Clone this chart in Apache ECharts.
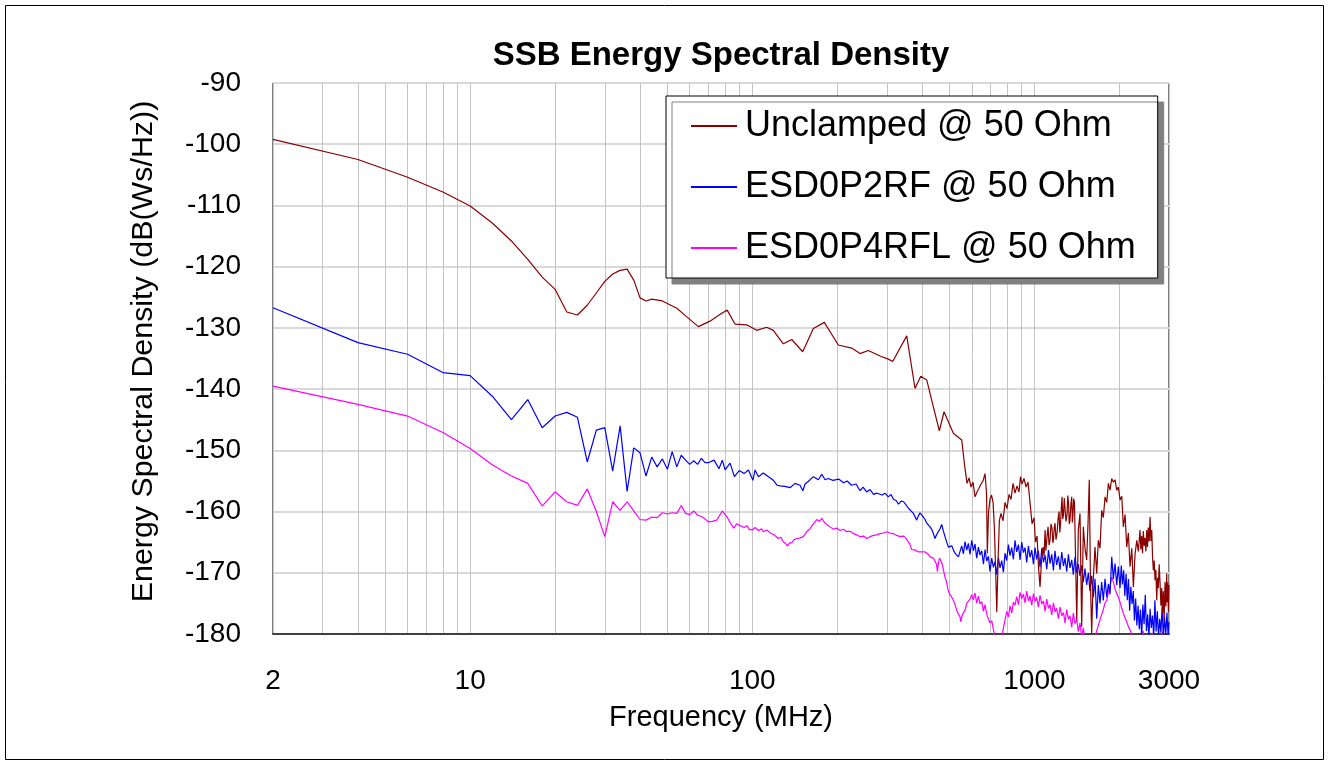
<!DOCTYPE html>
<html><head><meta charset="utf-8">
<script src="https://cdn.jsdelivr.net/npm/echarts@6/dist/echarts.min.js"></script>
<style>html,body{margin:0;padding:0;background:#fff}#c{width:1329px;height:765px}</style>
</head><body><div id="c"></div>
<script>
const seriesNames = ['Unclamped @ 50 Ohm', 'ESD0P2RF @ 50 Ohm', 'ESD0P4RFL @ 50 Ohm'];
const xLabelValues = [2, 10, 100, 1000, 3000];
const xGridValues = [2,3,4,5,6,7,8,9,10,20,30,40,50,60,70,80,90,100,200,300,400,500,600,700,800,900,1000,2000,3000];

// [frequency MHz, dB(Ws/Hz)]
const unclamped = [
[2,-99.2],[4,-102.5],[6,-105.4],[8,-107.8],[10,-110.1],[12,-112.9],[14,-115.8],[16,-118.8],[18,-121.7],[20,-123.7],[22,-127.4],[24,-127.9],[26,-126.3],[28,-124.3],[30,-122.4],[32,-121.2],[34,-120.6],[36,-120.4],[38,-122.2],[40,-125.1],[42,-125.6],[44,-125.3],[48,-125.6],[54,-126.8],[58.6,-128.2],[64.4,-129.8],[70.8,-128.9],[77.9,-127.6],[81.5,-127.1],[86.9,-129.4],[95.5,-129.5],[103.7,-130.4],[112.5,-129.9],[118.7,-130.4],[128.8,-132.6],[138,-131.9],[150.9,-133.9],[164.6,-130.1],[180,-129.1],[201.8,-132.8],[225.1,-133.3],[240.9,-134.2],[257.8,-133.7],[283.6,-134.6],[303.5,-135.1],[314.6,-135.5],[352.7,-131.3],[377.5,-139.9],[395.4,-137.9],[415.3,-138.5],[438.3,-142.9],[460.3,-146.8],[478.3,-143.7],[516.1,-147.2],[552.5,-148.3],[567.7,-153.0],
[577.1,-155.4],[586.6,-154.5],[596.1,-156.0],[605.9,-155.2],[615.9,-157.6],[626,-156.8],[636.4,-156.2],[646.9,-155.5],[657.5,-155.0],[668.3,-153.8],[676.6,-157],[681,-166.8],[687.8,-160],[696.1,-158.0],[704.8,-157.3],[713.5,-158.5],[721.2,-162.5],[728.3,-169],[735.5,-176.4],[743.4,-168],[751.3,-161.5],[761.5,-160.3],[774,-161.5],[786.8,-158.5],[799.7,-159.5],[812.9,-157.2],[826.3,-158.0],[839.9,-155.4],[853.7,-157.0],[867.8,-155.8],[882,-156.8],[892.8,-154.3],[903.8,-155.5],[918.7,-154.6],[933.9,-156.0],[949.3,-155.2],[964.9,-158.5],[980.8,-162],[996.8,-161],[1009,-165],[1022,-164],[1034,-169],[1047,-172.3],[1060,-168],[1073,-165.8],[1082,-167.2],[1091,-163],[1098,-166.4],[1105,-165],[1111,-163.6],[1118,-162.5],[1127,-165.5],[1136,-164.7],[1145,-162.0],[1155,-162.8],[1162,-165.1],[1169,-164.5],[1176,-162.6],[1183,-161.9],[1193,-164.6],[1203,-163.5],[1213,-161.2],[1223,-160],[1230,-163.4],[1238,-162],[1245,-159.6],[1253,-157.6],[1260,-161.2],[1268,-160.5],[1276,-157.8],[1284,-158.1],[1294,-161.6],[1305,-160.5],[1313,-157.4],[1321,-158.5],[1329,-162.0],[1337,-161.5],[1346,-159.0],[1356,-157.6],[1363,-161.8],[1370,-160.5],[1378,-157.9],[1387,-158.6],[1413,-177.7],[1431,-163],[1451,-160.3],[1471,-178.8],[1491,-162.5],[1511,-166],[1532,-167.9],[1549,-162],[1565,-154.8],[1581,-172],[1596,-179.9],[1613,-172],[1640,-165.8],[1663,-170.1],[1685,-164.7],[1708,-166],[1732,-159.8],[1755,-161],[1780,-157.6],[1805,-158.5],[1829,-155.4],[1854,-156.5],[1880,-154.6],[1905,-155.2],[1931,-154.8],[1958,-156.5],[1984,-156.0],[2012,-158.1],[2040,-157.5],[2067,-162.5],[2096,-160.5],[2125,-165.8],[2153,-163.5],[2183,-169],[2214,-166],[2243,-172.3],[2274,-167],[2306,-164.7],[2336,-166.5],
[2368,-163],[2385,-166.2],[2401,-164.0],[2417,-166.8],[2433,-163.2],[2450,-165.6],[2467,-164.3],[2484,-166.5],[2502,-163.0],[2518,-165.8],[2534,-162.6],[2552,-164.9],[2570,-160.9],[2588,-164.8],[2606,-163.0],[2623,-167.4],[2640,-169.6],[2658,-168.0],[2677,-171.2],[2695,-169.5],[2714,-174.5],[2732,-170.8],[2750,-172.5],[2769,-168.6],[2788,-171.5],[2808,-175.4],[2827,-172.5],[2845,-176.6],[2864,-173.0],[2884,-177.8],[2904,-171.5],[2925,-175.5],[2945,-170.1],[2957,-174.8],[2968,-171.6],[2985,-176.4],[3000,-172]
];

const esd0p2rf = [
[2,-126.7],[4,-132.4],[6,-134.3],[8,-137.3],[10,-137.8],[12,-141.2],[14,-145.0],[16,-141.7],[18,-146.3],[20,-144.4],[22,-143.8],[24,-144.6],[26,-151.9],[28,-146.7],[30,-146.3],[32,-153.4],[34,-146.0],[36,-156.7],[38,-149.6],[40,-150.4],[42,-154.2],[44,-151.1],[46,-152.7],[48,-151.4],[50,-153.1],[52,-150.2],[54,-152.7],[56,-150.8],[58,-151.6],[60,-152.3],[62,-151.7],[64,-152.3],[66,-151.3],[68,-152.0],[70.2,-152.0],[73.2,-151.6],[76.2,-153.0],[78.3,-151.6],[80.1,-153.2],[83.4,-152.1],[86.4,-154.3],[89.9,-153.3],[93.5,-153.8],[96.9,-153.2],[100.5,-154.9],[102.3,-153.2],[105.1,-154.3],[109.4,-153.7],[114.1,-154.3],[118.8,-154.9],[122.4,-155.7],[125.4,-155.8],[130.6,-155.9],[136.1,-156.1],[141.8,-155.4],[147.6,-155.7],[151.1,-156.6],[153.8,-155.5],[157.9,-155.1],[164.6,-154.3],[171.5,-154.8],[176.3,-153.9],[181.1,-154.8],[185.6,-154.6],[193.3,-154.9],[202.3,-154.7],[210.7,-155.3],[216.8,-155.0],[225,-155.7],[233.2,-155.5],[241,-156.6],[247,-156.0],[254.2,-156.8],[261.5,-156.4],[268.9,-157.2],[277,-157.0],[288.4,-157.3],[295.5,-157.0],[303.2,-157.6],[310.3,-157.2],[316.3,-158.0],[323.3,-158.2],[329.7,-158.8],[337.3,-158.3],[343.9,-158.4],[351.7,-159.0],[358.5,-159.5],[363.9,-159.2],[372.5,-160.3],[377.5,-160.6],[382.6,-161.4],[387.9,-160.7],[393.2,-160.2],[398.6,-160.5],[404.2,-160.9],[409.6,-161.3],[415.3,-161.9],[420.7,-161.7],[426.6,-162.5],[433.6,-163.0],[444.4,-164.4],[449.9,-163.8],[456.6,-163.6],[462.9,-162.8],[469.4,-162.1],[475.7,-163.2],[482.2,-164.1],[488.9,-165.0],[495.7,-165.8],[502.3,-166.0],[509.4,-165.6],[516.4,-166.3],[523.2,-166.8],[530.5,-166.5],[537.8,-167.4],
[545,-167.2],[552.5,-165.6],[560.1,-166.9],[567.7,-164.9],[575.6,-166.3],[583.3,-165.2],[591.3,-167.0],[599.6,-164.7],[607.9,-166.4],[615.9,-165.3],[624.4,-167.6],[633.2,-165.8],[641.6,-167.1],[650.6,-166.4],[659.8,-168.6],[668.3,-166.2],[677.6,-168.1],[687,-167.3],[696.1,-169.8],[705.8,-167.6],[715.7,-169.1],[725.1,-168.2],[735.3,-170.3],[745.5,-167.5],[755.3,-169.2],[765.8,-168.0],[776.5,-169.9],[786.8,-166.8],[797.8,-168.0],[808.9,-165.4],[819.5,-167.2],[830.9,-165.9],[842.5,-167.8],[853.7,-164.7],[865.5,-166.6],[877.6,-165.4],[889.2,-167.9],[901.6,-165.0],[914.2,-166.7],[926.3,-165.9],[939.2,-168.3],[952.3,-165.6],[964.9,-167.5],[978.4,-166.3],[992.1,-168.6],[1005,-165.9],[1019,-167.8],[1033,-166.4],[1047,-169.1],[1062,-166.0],[1077,-168.3],[1091,-167.1],[1106,-169.4],[1122,-166.3],[1136,-168.5],[1152,-167.0],[1168,-169.6],[1183,-166.4],[1199,-168.7],[1216,-167.3],[1233,-169.5],[1250,-166.6],[1268,-168.9],[1284,-167.6],[1302,-169.8],[1320,-167.0],[1337,-169.2],[1356,-167.9],[1374,-170.3],[1393,-167.4],[1413,-170.0],[1431,-168.6],
[1451,-170.5],[1471,-168.8],[1491,-171.5],[1511,-169.3],[1532,-172.0],[1553,-170.0],[1574,-173.0],[1596,-170.5],[1618,-174.0],[1640,-171.0],[1663,-177.5],[1685,-172.0],[1708,-175.0],[1732,-171.5],[1755,-174.5],[1780,-171.0],[1805,-174.0],[1829,-171.8],[1854,-173.5],[1880,-167.4],[1905,-171.0],[1931,-168.5],[1958,-172.0],[1984,-169.0],
[2012,-172.5],[2032,-168.8],[2052,-171.9],[2072,-169.6],[2092,-173.8],[2113,-170.2],[2134,-174.5],[2155,-171.0],[2176,-176.2],[2197,-172.3],[2219,-175.1],[2241,-173.0],[2263,-177.8],[2285,-174.2],[2308,-178.6],[2331,-175.4],[2354,-179.2],[2377,-176.0],[2400,-180.5],[2424,-175.2],[2448,-178.4],[2472,-173.6],[2496,-179.5],[2521,-176.8],[2546,-180.5],[2571,-175.9],[2596,-179.0],[2622,-177.0],[2648,-180.5],[2674,-174.5],[2700,-179.6],[2727,-176.3],[2754,-180.5],[2781,-177.5],[2808,-179.8],[2836,-175.6],[2864,-180.5],[2892,-177.2],[2921,-180.2],[2950,-176.5],[2979,-180.5],[3000,-178.0]
];

const esd0p4rfl = [
[2,-139.5],[4,-142.5],[6,-144.4],[8,-147.1],[10,-149.7],[12,-152.4],[14,-154.2],[16,-155.4],[18,-159.1],[20,-156.8],[22,-158.4],[24,-159.0],[26,-156.3],[28,-160.0],[30,-164.1],[32,-158.4],[34,-159.8],[36,-158.4],[38,-159.9],[40,-161.3],[42,-161.4],[44,-160.9],[46,-161.0],[48,-160.2],[50,-160.4],[52,-160.2],[54,-160.3],[56,-159.0],[58,-160.3],[60,-160.5],[62,-159.9],[64,-160.6],[66,-160.8],[68,-161.2],[70,-161.7],[72.2,-161.6],[74.8,-161.4],[78.3,-159.9],[81.4,-160.9],[83.4,-161.8],[86.1,-162.7],[88,-162.0],[90.5,-162.3],[93.5,-162.6],[95.8,-162.3],[97.4,-162.9],[99.9,-163.0],[102.3,-162.6],[105.1,-163.1],[107.9,-162.8],[109.4,-163.3],[112.6,-163.0],[115.6,-163.5],[119.4,-163.8],[123.5,-164.4],[126.4,-164.2],[128.4,-164.9],[131.1,-165.2],[133.2,-165.6],[135.5,-165.1],[137.9,-165.1],[140.6,-164.6],[143.8,-164.4],[147.6,-164.3],[151.7,-164.1],[155.7,-163.3],[160.2,-162.8],[164.6,-162.0],[169.3,-161.3],[172.8,-161.6],[176.3,-161.1],[179.7,-161.7],[183.6,-162.1],[188.6,-162.5],[193.8,-162.9],[198.9,-162.7],[204.7,-163.1],[210.5,-162.9],[216.3,-163.3],[222.1,-163.2],[228.5,-163.6],[234.4,-163.8],[241,-164.1],[247.8,-164.0],[254.2,-164.4],[261.5,-164.1],[268.9,-163.9],[276.4,-163.8],[283.7,-163.6],[291.2,-163.5],[299.4,-163.3],[307.8,-163.5],[316.3,-163.6],[325.1,-163.9],[334,-164.1],[343.4,-164.0],[349.3,-164.3],[354.4,-164.2],[360.9,-165.2],[367.6,-166.2],[373,-166.3],[377.5,-166.3],[382.6,-166.5],[387.9,-166.6],[393.2,-166.4],[398.6,-166.6],[404.2,-166.7],[409.6,-166.6],[415.3,-166.8],[420.7,-167.0],[426.6,-167.4],[432.5,-167.3],[438.3,-167.6],[444.4,-167.9],[449.9,-168.6],[452.9,-169.8],[456.6,-168.5],[461.1,-167.6],[465.6,-167.4],[470.5,-168.5],[475.7,-169.5],[482.2,-170.7],[488.2,-171.5],[493.2,-172.6],[499.4,-173.4],[506.4,-173.8],[516.4,-174.5],[523.2,-175.2],[530.5,-176.1],[537.8,-176.8],[545,-177.2],[548.2,-178.0],[554.1,-177.0],[560.9,-176.5],[567.7,-176.1],[575.6,-175.0],[583.3,-174.8],[591.3,-174.3],[599.6,-173.6],
[607.9,-174.4],[615.9,-173.3],[624.4,-174.9],[633.2,-173.8],[641.6,-175.1],[650.6,-174.7],[659.8,-176.3],[668.3,-175.2],[677.6,-176.8],[687,-176.5],[696.1,-178.2],[705.8,-177.8],[715.7,-179.3],[725.1,-180.5],[737.1,-181],[749.6,-181],[765.8,-180.5],[776.5,-179.0],
[786.8,-177.7],[797.8,-176.3],[808.9,-177.2],[819.5,-175.4],[830.9,-176.6],[842.5,-174.8],[853.7,-175.3],[865.5,-173.9],[877.6,-175.2],[889.2,-173.2],[901.6,-174.2],[914.2,-173.5],[926.3,-174.9],[939.2,-173.0],[952.3,-174.6],[964.9,-173.8],[978.4,-175.3],[992.1,-173.4],[1005,-174.7],[1019,-174.0],[1033,-175.6],[1047,-173.7],[1062,-175.1],[1077,-174.6],[1091,-176.3],[1106,-174.3],[1122,-175.8],[1136,-175.2],[1152,-176.9],[1168,-174.9],[1183,-176.4],[1199,-175.8],[1216,-177.5],[1233,-175.6],[1250,-177.0],[1268,-176.5],[1284,-178.2],[1302,-176.0],[1320,-177.6],[1337,-177.0],[1356,-178.9],[1374,-176.6],[1393,-178.3],[1413,-177.6],[1431,-179.6],[1451,-178.2],[1471,-180.5],[1491,-179.0],
[1511,-181],[1553,-181],[1596,-181],[1640,-180.5],[1663,-179.5],[1685,-178.6],[1708,-177.7],[1732,-176.8],[1755,-176.0],[1780,-174.9],[1805,-174.5],[1829,-173.2],[1854,-172.2],[1880,-170.7],[1905,-171.5],[1931,-172.6],[1958,-173.4],[1984,-174.0],[2012,-174.8],[2040,-175.8],[2067,-176.6],[2096,-177.4],[2125,-178.0],[2153,-178.8],[2183,-179.3],[2214,-180],[2243,-181],[2368,-181],[2427,-179.5],[2457,-181],[2570,-181],[2612,-179.8],[2644,-181],[2788,-181],[2857,-179.6],[2891,-181],[3000,-181]
];

const seriesColors = ['#8B0000', '#0000FF', '#FF00FF'];
const FONT = '"Liberation Sans", Arial, sans-serif';

const chart = echarts.init(document.getElementById('c'), null, {renderer: 'canvas'});
const option = {
  animation: false,
  backgroundColor: '#ffffff',
  title: {
    text: 'SSB Energy Spectral Density',
    left: 721, top: 39, textAlign: 'center', padding: 0,
    textStyle: {fontFamily: FONT, fontSize: 33, fontWeight: 'bold', color: '#000'}
  },
  grid: {left: 273, right: 160, top: 83, bottom: 131, show: true, borderColor: '#000', borderWidth: 1, backgroundColor: 'transparent'},
  xAxis: {
    type: 'log', logBase: 10, min: 2, max: 3000,
    name: 'Frequency (MHz)', nameLocation: 'middle', nameGap: 69,
    nameTextStyle: {fontFamily: FONT, fontSize: 29, color: '#000'},
    axisLine: {show: true, lineStyle: {color: '#404040', width: 2}},
    axisTick: {show: false, customValues: xGridValues},
    axisLabel: {customValues: xLabelValues, formatter: v => String(Math.round(v)), fontFamily: FONT, fontSize: 28, color: '#000', margin: 33},
    splitLine: {show: true, lineStyle: {color: '#c4c4c4', width: 1}}
  },
  yAxis: {
    type: 'value', min: -180, max: -90, interval: 10,
    name: 'Energy Spectral Density (dB(Ws/Hz))', nameLocation: 'middle', nameGap: 114,
    nameTextStyle: {fontFamily: FONT, fontSize: 30.4, color: '#000', padding: [0, 0, 0, 14]},
    axisLine: {show: false}, axisTick: {show: false},
    axisLabel: {fontFamily: FONT, fontSize: 28, color: '#000', margin: 32},
    splitLine: {show: true, lineStyle: {color: '#d9d9d9', width: 2}}
  },
  legend: {
    orient: 'vertical', left: 666, top: 96, icon: 'rect',
    padding: [10, 22, 10, 25], itemGap: 21, itemWidth: 46, itemHeight: 2,
    backgroundColor: '#fff', borderColor: '#000', borderWidth: 1,
    shadowColor: '#808080', shadowBlur: 0, shadowOffsetX: 6, shadowOffsetY: 6,
    textStyle: {fontFamily: FONT, fontSize: 36, color: '#000', lineHeight: 40, padding: [0, 0, 0, 3]},
    data: seriesNames
  },
  graphic: [{type: 'rect', silent: true, z: 0, shape: {x: 5.5, y: 5.5, width: 1318, height: 754}, style: {fill: 'none', stroke: '#000', lineWidth: 1}}],
  series: [
    {name: seriesNames[0], type: 'line', data: unclamped, symbol: 'none', z: 4, clip: true, color: seriesColors[0], lineStyle: {width: 1.2, color: seriesColors[0]}},
    {name: seriesNames[1], type: 'line', data: esd0p2rf, symbol: 'none', z: 3, clip: true, color: seriesColors[1], lineStyle: {width: 1.2, color: seriesColors[1]}},
    {name: seriesNames[2], type: 'line', data: esd0p4rfl, symbol: 'none', z: 2, clip: true, color: seriesColors[2], lineStyle: {width: 1.2, color: seriesColors[2]}}
  ]
};
chart.setOption(option);
</script>
</body></html>
